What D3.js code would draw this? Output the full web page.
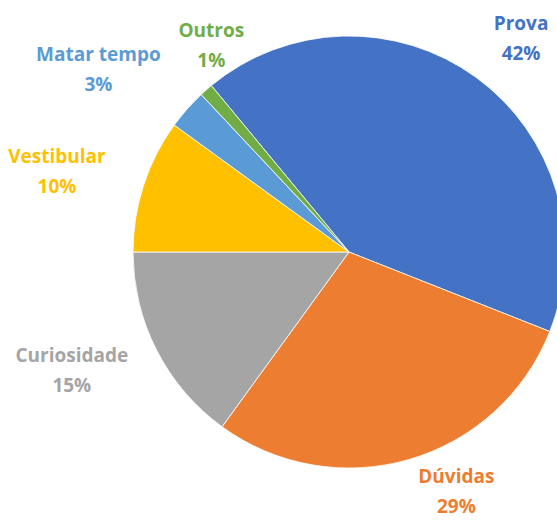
<!DOCTYPE html>
<html><head><meta charset="utf-8">
<script src="https://cdn.jsdelivr.net/npm/d3@7"></script>
<style>html,body{margin:0;padding:0;background:#fff;}svg{display:block;}</style>
</head><body>
<div id="chart"></div>
<script>
const categories = ["Prova", "Dúvidas", "Curiosidade", "Vestibular", "Matar tempo", "Outros"];
const values = [42, 29, 15, 10, 3, 1];
const percentLabels = ["42%", "29%", "15%", "10%", "3%", "1%"];
const colors = ["#4472C4", "#ED7D31", "#A5A5A5", "#FFC000", "#5B9BD5", "#70AD47"];
const labelNudge = [[7, 13], [29, -31], [-27, -9], [-25, 6], [-40, 3], [48, 4]];

const W = 557, H = 521;
const cx = 349, cy = 252, R = 216;
const startAngle = -39.6 * Math.PI / 180;

const svg = d3.select("#chart").append("svg").attr("width", W).attr("height", H);
const g = svg.append("g").attr("transform", `translate(${cx},${cy})`);

const pie = d3.pie().sort(null).value(d => d)
  .startAngle(startAngle).endAngle(startAngle + 2 * Math.PI);
const arcs = pie(values);
const arc = d3.arc().innerRadius(0).outerRadius(R);
const labelArc = d3.arc().innerRadius(R * 1.3).outerRadius(R * 1.3);

g.selectAll("path.slice").data(arcs).enter().append("path")
  .attr("class", "slice")
  .attr("d", arc)
  .attr("fill", (d, i) => colors[i])
  .attr("stroke", "#fff").attr("stroke-width", 0.8);

const lab = g.selectAll("text.lab").data(arcs).enter().append("text")
  .attr("class", "lab")
  .attr("transform", (d, i) => {
    const c = labelArc.centroid(d);
    return `translate(${c[0] + labelNudge[i][0]},${c[1] + labelNudge[i][1]})`;
  })
  .attr("text-anchor", "middle")
  .attr("dominant-baseline", "central")
  .attr("fill", (d, i) => colors[i])
  .style("font-family", "'Open Sans', sans-serif")
  .style("font-weight", "bold")
  .style("font-size", "19px");
lab.append("tspan").attr("x", 0).attr("y", -15).text((d, i) => categories[i]);
lab.append("tspan").attr("x", 0).attr("y", 15).text((d, i) => percentLabels[i]);
</script>
</body></html>
